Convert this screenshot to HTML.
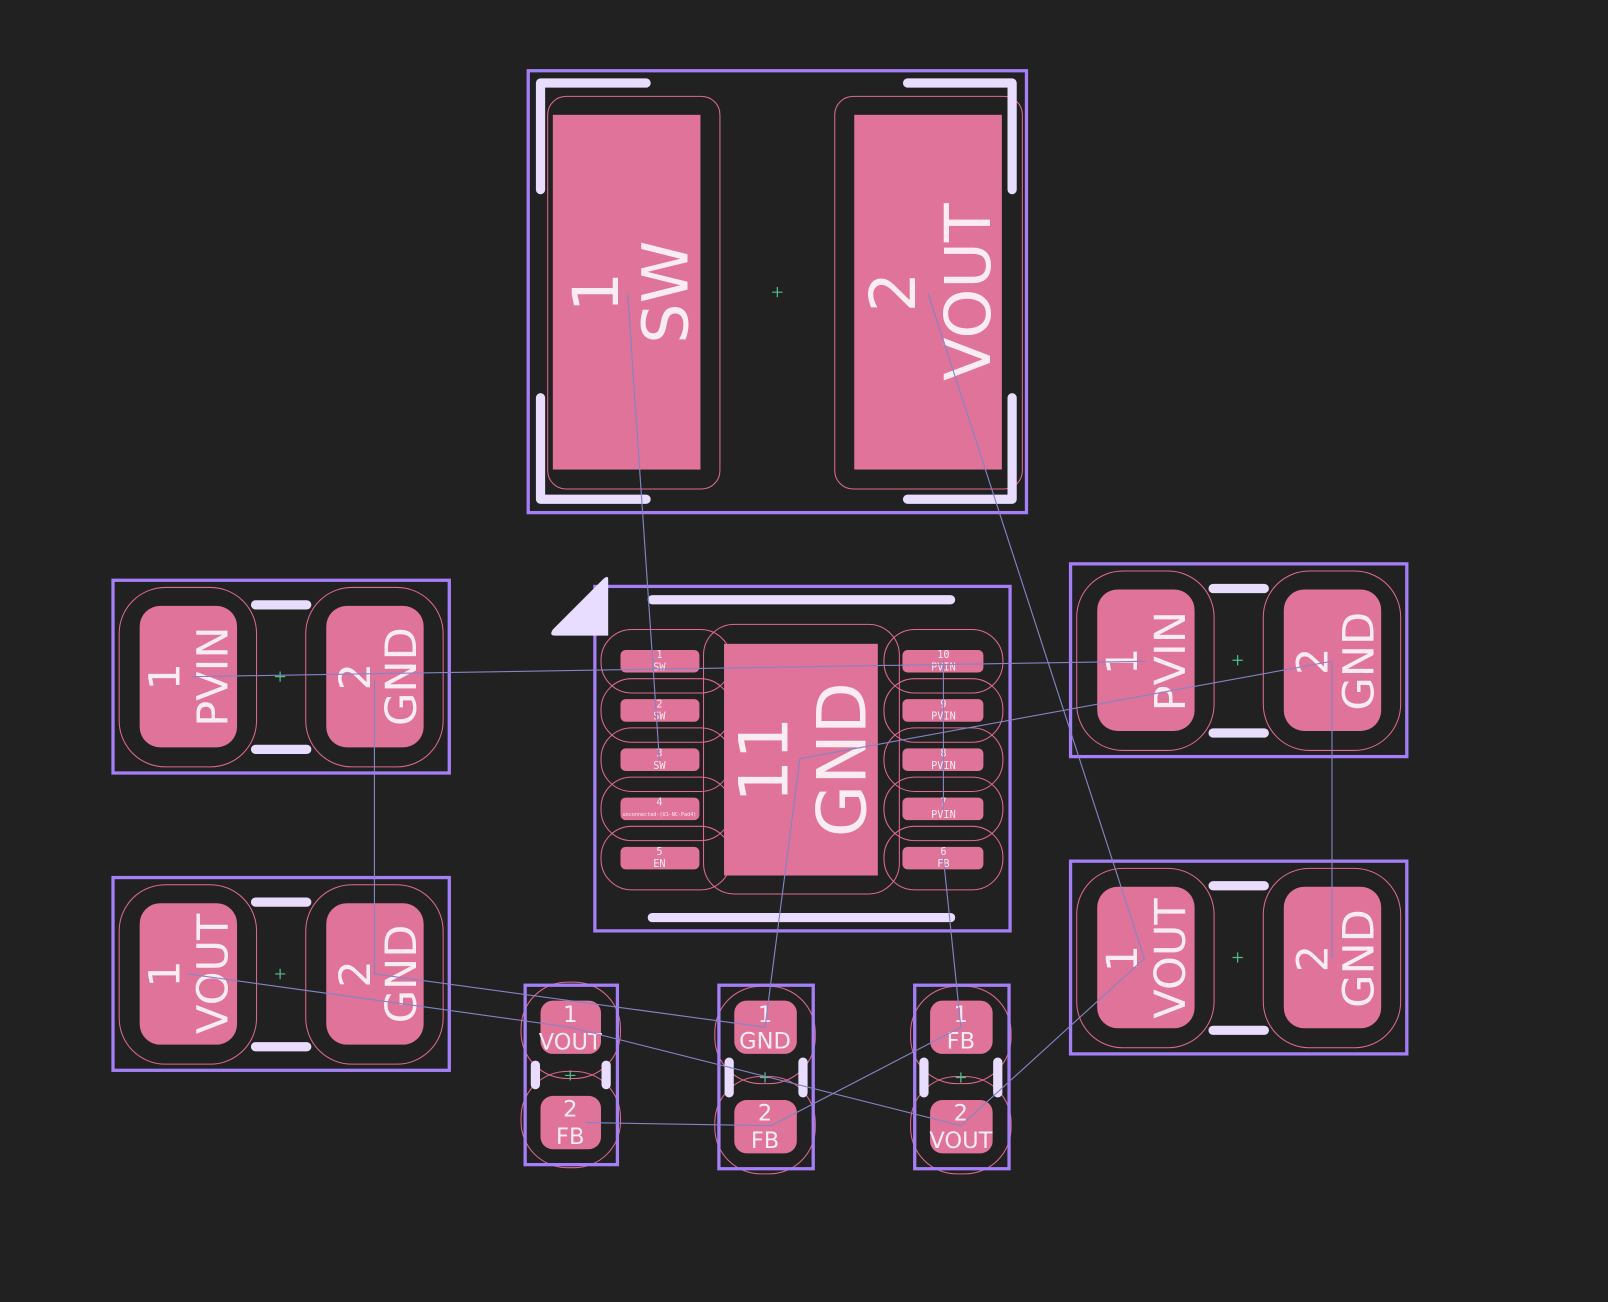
<!DOCTYPE html>
<html><head><meta charset="utf-8"><style>
html,body{margin:0;padding:0;background:#212121;}
svg{display:block;}
.ol{fill:none;stroke:#a57ff6;stroke-width:3.2;}
.sk{stroke:#e8dcff;stroke-width:9;stroke-linecap:round;stroke-linejoin:round;fill:none;}
.pad{fill:#e07399;}
.cy{fill:none;stroke:#e06a90;stroke-width:1;}
.rn{stroke:#8484c4;stroke-width:1.1;fill:none;}
.ch{stroke:#4fc08d;stroke-width:1.2;}
.t{fill:#fbecf1;font-family:"DejaVu Sans","Liberation Sans",sans-serif;text-anchor:middle;dominant-baseline:central;}
.m{fill:#fbecf1;font-family:"DejaVu Sans Mono","Liberation Mono",monospace;text-anchor:middle;dominant-baseline:central;}
</style></head><body>
<svg width="1608" height="1302" viewBox="0 0 1568 1270" xmlns="http://www.w3.org/2000/svg">
<rect width="1568" height="1270" fill="#212121"/>

<!-- L1 -->
<rect class="cy" x="534" y="94" width="168" height="383" rx="18"/>
<rect class="cy" x="814" y="94" width="183" height="383" rx="18"/>
<rect class="pad" x="539" y="112" width="144" height="346"/>
<rect class="pad" x="833" y="112" width="144" height="346"/>
<rect class="ol" x="515" y="69" width="486" height="431"/>
<path class="sk" d="M630 81 H527 V185 M527 388 V487 H630 M885 81 H987 V185 M987 388 V487 H885"/>
<g transform="translate(611,285) rotate(-90)"><text class="t" x="0" y="-30" font-size="62">1</text><text class="t" x="0" y="38" font-size="62">SW</text></g>
<g transform="translate(905,285) rotate(-90)"><text class="t" x="0" y="-34" font-size="62">2</text><text class="t" x="0" y="39" font-size="62">VOUT</text></g>
<path class="ch" d="M753 285 H763 M758 280 V290"/>

<!-- U1 -->
<rect class="cy" x="686" y="609" width="191" height="263" rx="30"/>
<g class="cy">
<rect x="586" y="614" width="127" height="62" rx="30"/><rect x="586" y="662" width="127" height="62" rx="30"/><rect x="586" y="710" width="127" height="62" rx="30"/><rect x="586" y="758" width="127" height="62" rx="30"/><rect x="586" y="806" width="127" height="62" rx="30"/>
<rect x="862" y="614" width="116" height="62" rx="30"/><rect x="862" y="662" width="116" height="62" rx="30"/><rect x="862" y="710" width="116" height="62" rx="30"/><rect x="862" y="758" width="116" height="62" rx="30"/><rect x="862" y="806" width="116" height="62" rx="30"/>
</g>
<g class="pad">
<rect x="605" y="634" width="77" height="22" rx="5"/><rect x="605" y="682" width="77" height="22" rx="5"/><rect x="605" y="730" width="77" height="22" rx="5"/><rect x="605" y="778" width="77" height="22" rx="5"/><rect x="605" y="826" width="77" height="22" rx="5"/>
<rect x="880" y="634" width="79" height="22" rx="5"/><rect x="880" y="682" width="79" height="22" rx="5"/><rect x="880" y="730" width="79" height="22" rx="5"/><rect x="880" y="778" width="79" height="22" rx="5"/><rect x="880" y="826" width="79" height="22" rx="5"/>
<rect x="706" y="628" width="150" height="226"/>
</g>
<rect class="ol" x="580" y="572" width="405" height="336"/>
<path d="M593 565 L593 620 L541 620 Q535 620 539 614 L587 566 Q593 560 593 565 Z" fill="#e8dcff"/>
<path class="sk" d="M636 585 H927 M636 895 H927" stroke-width="11"/>
<g font-size="10">
<text class="m" x="643" y="639">1</text><text class="m" x="643" y="651">SW</text>
<text class="m" x="643" y="687">2</text><text class="m" x="643" y="699">SW</text>
<text class="m" x="643" y="735">3</text><text class="m" x="643" y="747">SW</text>
<text class="m" x="643" y="783">4</text><text class="m" x="643" y="795" font-size="5">unconnected-(U1-NC-Pad4)</text>
<text class="m" x="643" y="831">5</text><text class="m" x="643" y="843">EN</text>
<text class="m" x="920" y="639">10</text><text class="m" x="920" y="651">PVIN</text>
<text class="m" x="920" y="687">9</text><text class="m" x="920" y="699">PVIN</text>
<text class="m" x="920" y="735">8</text><text class="m" x="920" y="747">PVIN</text>
<text class="m" x="920" y="783">7</text><text class="m" x="920" y="795">PVIN</text>
<text class="m" x="920" y="831">6</text><text class="m" x="920" y="843">FB</text>
</g>
<g transform="translate(781,741) rotate(-90)"><text class="t" x="0" y="-36" font-size="66">11</text><text class="t" x="0" y="40" font-size="66">GND</text></g>

<!-- 2-pad caps -->
<g id="cap">
<rect class="cy" x="116" y="573" width="134" height="175" rx="45"/>
<rect class="cy" x="298" y="573" width="134" height="175" rx="45"/>
<rect class="pad" x="136" y="591" width="95" height="138" rx="20"/>
<rect class="pad" x="318" y="591" width="95" height="138" rx="20"/>
<rect class="ol" x="110" y="566" width="328" height="188"/>
<path class="sk" d="M249 590 H299 M249 731 H299"/>
<path class="ch" d="M268 660 H278 M273 655 V665"/>
</g>
<g transform="translate(183,660) rotate(-90)"><text class="t" x="0" y="-22" font-size="42">1</text><text class="t" x="0" y="25" font-size="42">PVIN</text></g>
<g transform="translate(365,660) rotate(-90)"><text class="t" x="0" y="-18" font-size="42">2</text><text class="t" x="0" y="27" font-size="42">GND</text></g>

<use href="#cap" transform="translate(0,290)"/>
<g transform="translate(183,950) rotate(-90)"><text class="t" x="0" y="-22" font-size="42">1</text><text class="t" x="0" y="25" font-size="42">VOUT</text></g>
<g transform="translate(365,950) rotate(-90)"><text class="t" x="0" y="-18" font-size="42">2</text><text class="t" x="0" y="27" font-size="42">GND</text></g>

<use href="#cap" transform="translate(934,-16)"/>
<g transform="translate(1117,645) rotate(-90)"><text class="t" x="0" y="-22" font-size="42">1</text><text class="t" x="0" y="25" font-size="42">PVIN</text></g>
<g transform="translate(1299,645) rotate(-90)"><text class="t" x="0" y="-18" font-size="42">2</text><text class="t" x="0" y="27" font-size="42">GND</text></g>

<use href="#cap" transform="translate(934,274)"/>
<g transform="translate(1117,935) rotate(-90)"><text class="t" x="0" y="-22" font-size="42">1</text><text class="t" x="0" y="25" font-size="42">VOUT</text></g>
<g transform="translate(1299,935) rotate(-90)"><text class="t" x="0" y="-18" font-size="42">2</text><text class="t" x="0" y="27" font-size="42">GND</text></g>

<!-- small resistors -->
<g class="cy">
<rect x="508" y="958" width="97" height="94" rx="45"/><rect x="508" y="1045" width="97" height="94" rx="45"/>
<rect x="697" y="962" width="98" height="95" rx="45"/><rect x="697" y="1050" width="98" height="95" rx="45"/>
<rect x="888" y="962" width="98" height="95" rx="45"/><rect x="888" y="1050" width="98" height="95" rx="45"/>
</g>
<g class="pad">
<rect x="527" y="976" width="59" height="52" rx="12"/><rect x="527" y="1069" width="59" height="52" rx="12"/>
<rect x="716" y="976" width="61" height="52" rx="12"/><rect x="716" y="1073" width="61" height="52" rx="12"/>
<rect x="907" y="976" width="61" height="52" rx="12"/><rect x="907" y="1073" width="61" height="52" rx="12"/>
</g>
<rect class="ol" x="512" y="961" width="90" height="175"/>
<rect class="ol" x="701" y="961" width="92" height="179"/>
<rect class="ol" x="892" y="961" width="92" height="179"/>
<path class="sk" d="M522 1039 V1058 M591 1039 V1058" stroke-width="10"/>
<path class="sk" d="M711 1036 V1066 M783 1036 V1066 M901 1036 V1066 M973 1036 V1066" stroke-width="10"/>
<path class="ch" d="M551 1049 H561 M556 1044 V1054 M741 1051 H751 M746 1046 V1056 M932 1051 H942 M937 1046 V1056"/>
<g font-size="22">
<text class="t" x="556" y="990">1</text><text class="t" x="556" y="1017">VOUT</text>
<text class="t" x="556" y="1082">2</text><text class="t" x="556" y="1109">FB</text>
<text class="t" x="746" y="990">1</text><text class="t" x="746" y="1016">GND</text>
<text class="t" x="746" y="1086">2</text><text class="t" x="746" y="1113">FB</text>
<text class="t" x="937" y="990">1</text><text class="t" x="937" y="1016">FB</text>
<text class="t" x="937" y="1086">2</text><text class="t" x="937" y="1113">VOUT</text>
</g>

<!-- ratsnest -->
<g class="rn">
<line x1="612" y1="286" x2="643" y2="742"/>
<line x1="905" y1="286" x2="1116" y2="935"/>
<line x1="187" y1="660" x2="1117" y2="645"/>
<line x1="920" y1="645" x2="920" y2="790"/>
<line x1="365" y1="663" x2="365" y2="950"/>
<line x1="1299" y1="645" x2="1299" y2="935"/>
<polyline points="1299,645 780,740 746,1002"/>
<line x1="365" y1="950" x2="746" y2="1002"/>
<line x1="920" y1="837" x2="937" y2="1002"/>
<polyline points="937,1002 752,1098 571,1095"/>
<polyline points="183,950 556,1002 937,1098 1116,935"/>
</g>
</svg>
</body></html>
